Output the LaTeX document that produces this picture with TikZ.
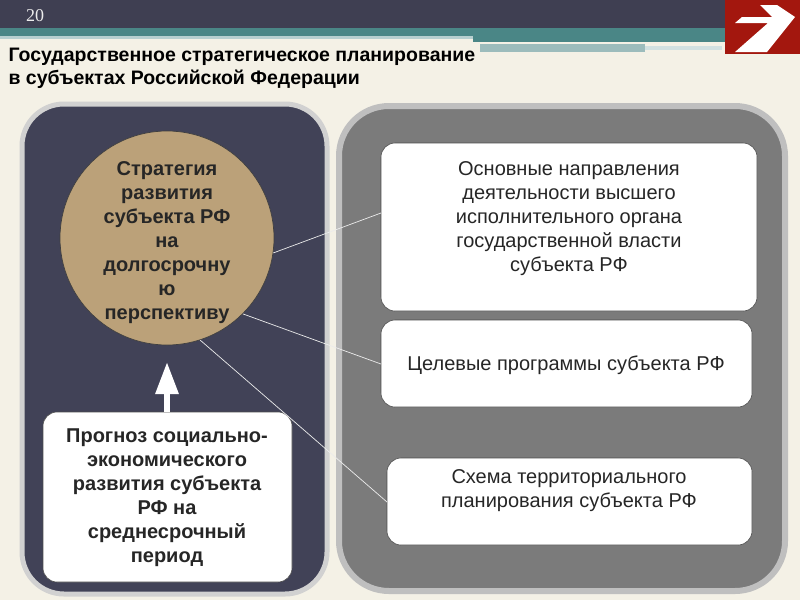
\documentclass[tikz,border=0pt]{standalone}
\usepackage{fontspec}
\setmainfont{Liberation Sans}
\newfontfamily\numfont{Liberation Serif}
\usepackage{tikz}
\usetikzlibrary{arrows, arrows.meta, positioning, shapes}

\definecolor{bgcream}{HTML}{F4F1E6}
\definecolor{hdrdark}{HTML}{3F3F52}
\definecolor{hdrteal}{HTML}{4A8686}
\definecolor{navypanel}{HTML}{414257}
\definecolor{graypanel}{HTML}{7B7B7B}
\definecolor{tan}{HTML}{BBA179}
\definecolor{redbox}{HTML}{A3170E}

\begin{document}
\begin{tikzpicture}[x=1pt, y=-1pt,
			wbox/.style={draw=black!70, fill=white, rounded corners=14pt, line width=0.6pt},
			boxtext/.style={align=center, font=\fontsize{20}{24}\selectfont, text=black!85},
			boldtext/.style={align=center, font=\bfseries\fontsize{20}{24}\selectfont, text=black!85},
			link/.style={draw=white!85!gray, line width=0.7pt}]
			\useasboundingbox (0,0) rectangle (800,600);
			\fill[bgcream] (0,0) rectangle (800,600);
			% header
			\fill[hdrdark] (0,0) rectangle (725,28);
			\fill[hdrteal] (0,28) rectangle (725,36);
			\fill[hdrteal] (473,36) rectangle (725,42);
			\fill[hdrteal!40!white] (0,36) rectangle (473,39);
			\fill[hdrteal!55!white] (480,44) rectangle (645,52);
			\fill[hdrteal!25!white] (645,46) rectangle (722,50);
			\node[font=\numfont\fontsize{18}{18}\selectfont, text=white!85!gray] (num) at (35,16) {20};
			\fill[redbox] (725,0) rectangle (800,54);
			\fill[white] (760,5) -- (777,5) -- (795,17) -- (767,52) -- (735,52) -- (768,23) -- (735,23) -- (742,17) -- (772,17) -- cycle;
			\node[anchor=north west, align=left, font=\bfseries\fontsize{19.5}{23}\selectfont] (title) at (5,45)
				{Государственное стратегическое планирование\\в субъектах Российской Федерации};
			% panels
			\draw[rounded corners=42pt, line width=5pt, draw=black!18, fill=navypanel] (22,104) rectangle (327,594);
			\draw[rounded corners=50pt, line width=6pt, draw=black!25, fill=graypanel] (339,106) rectangle (785,591);
			% circle
			\node[circle, draw=black!75, fill=tan, minimum size=214pt, line width=0.7pt] (strat) at (167,238) {};
			\node[boldtext] (strattext) at (167,243)
				{Стратегия\\развития\\субъекта РФ\\на\\долгосрочну\\ю\\перспективу};
			% forecast box
			\draw[wbox] (43,412) rectangle (292,582);
			\node[boldtext] (prog) at (167,498)
				{Прогноз социально-\\экономического\\развития субъекта\\РФ на\\среднесрочный\\период};
			\coordinate (progtop) at (167,412);
			\draw[-{Triangle[width=22pt, length=32pt]}, white, line width=6pt] (progtop) -- (167,362);
			% right boxes
			\draw[wbox] (381,143) rectangle (757,311);
			\node[boxtext] (dir) at (569,219)
				{Основные направления\\деятельности высшего\\исполнительного органа\\государственной власти\\субъекта РФ};
			\draw[wbox] (381,320) rectangle (752,407);
			\node[boxtext] (prg) at (566,365) {Целевые программы субъекта РФ};
			\draw[wbox] (387,458) rectangle (752,545);
			\node[boxtext] (sch) at (569,491) {Схема территориального\\планирования субъекта РФ};
			% links
			\coordinate (dirin) at (381,213);
			\coordinate (prgin) at (381,364);
			\coordinate (schin) at (387,502);
			\draw[link] (strat.-8) -- (dirin);
			\draw[link] (strat.-45) -- (prgin);
			\draw[link] (strat.-72) -- (schin);
		\end{tikzpicture}
\end{document}
